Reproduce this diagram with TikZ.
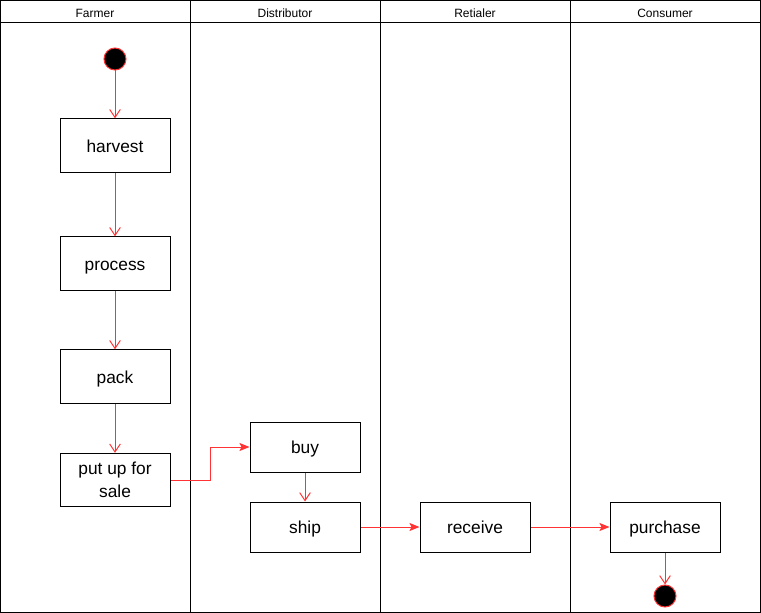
\documentclass[tikz,border=0pt]{standalone}
\usepackage{fontspec}
\setmainfont{Liberation Sans}
\usetikzlibrary{arrows.meta}
\definecolor{edred}{RGB}{255,51,51}
\tikzstyle{act}=[draw=black, shape=rectangle, minimum width=82.5pt, minimum height=37.5pt, inner sep=0pt, align=center, line width=0.75pt, font=\fontsize{13}{17}\selectfont]
\tikzstyle{tall}=[minimum height=40pt]
\tikzstyle{one}=[text height=0.98em, text depth=0pt]
\tikzstyle{dot}=[fill=black, draw=edred, shape=circle, minimum size=16.5pt, inner sep=0pt, line width=0.75pt]
\tikzstyle{lane}=[font=\fontsize{9}{10}\selectfont]
\tikzstyle{ed}=[-{Straight Barb[length=6pt, width=8pt]}, draw=edred, line width=0.75pt]
\tikzstyle{edb}=[-{Stealth[length=7.5pt, width=6pt, inset=1.5pt]}, draw=edred, line width=0.75pt]

\begin{document}
\begin{tikzpicture}[x=0.75pt, y=-0.75pt, line width=0.75pt]
    	\useasboundingbox (0,0) rectangle (761,613);
    	% swimlanes
    	\draw (0.5,0.5) rectangle (760.5,612.5);
    	\draw (0.5,23) -- (760.5,23);
    	\draw (190,0.5) -- (190,612.5);
    	\draw (380,0.5) -- (380,612.5);
    	\draw (570,0.5) -- (570,612.5);
    	\node [style=lane] (l0) at (95,13.5) {Farmer};
    	\node [style=lane] (l1) at (285,13.5) {Distributor};
    	\node [style=lane] (l2) at (475,13.5) {Retialer};
    	\node [style=lane] (l3) at (665,13.5) {Consumer};
    	% activities
    	\node [style=dot] (s) at (115,59) {};
    	\node [style=act, style=tall, style=one] (0) at (115,145.5) {harvest};
    	\node [style=act, style=tall, style=one] (1) at (115,263.5) {process};
    	\node [style=act, style=tall, style=one] (2) at (115,376.5) {pack};
    	\node [style=act, style=tall] (3) at (115,480) {put up for\\sale};
    	\node [style=act, style=one] (4) at (305,447) {buy};
    	\node [style=act, style=one] (5) at (305,527) {ship};
    	\node [style=act, style=one] (6) at (475,527) {receive};
    	\node [style=act, style=one] (7) at (665,527) {purchase};
    	\node [style=dot] (e) at (665,596) {};
    	\draw [style=ed] (s) to (0);
    	\draw [style=ed] (0) to (1);
    	\draw [style=ed] (1) to (2);
    	\draw [style=ed] (2) to (3);
    	\draw [style=edb] (3.east) -- ++(40,0) |- (4.west);
    	\draw [style=ed] (4) to (5);
    	\draw [style=edb] (5) to (6);
    	\draw [style=edb] (6) to (7);
    	\draw [style=ed] (7) to (e);
    \end{tikzpicture}
\end{document}
